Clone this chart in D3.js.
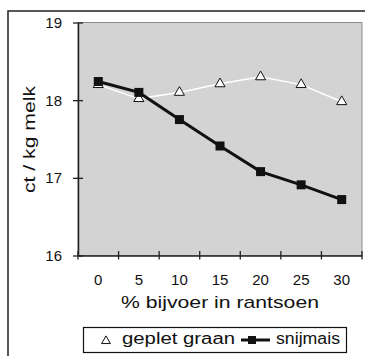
<!DOCTYPE html>
<html>
<head>
<meta charset="utf-8">
<script src="https://cdn.jsdelivr.net/npm/d3@7"></script>
<style>
  body { margin: 0; background: #fff; }
  svg { display: block; font-family: "Liberation Sans", Arial, sans-serif; }
</style>
</head>
<body>
<div id="chart"></div>
<script>
// data
const categories = ["0", "5", "10", "15", "20", "25", "30"];
const gepletGraan = [18.2, 18.02, 18.1, 18.21, 18.3, 18.2, 17.98];
const snijmais = [18.24, 18.1, 17.75, 17.41, 17.08, 16.91, 16.72];
const yTicks = [16, 17, 18, 19];

const width = 365;
const height = 356;
const margin = { top: 22.5, right: 3, bottom: 100.5, left: 78 };

const svg = d3.select("#chart")
    .append("svg")
    .attr("width", width)
    .attr("height", height);

const xScale = d3.scaleBand().domain(categories).range([margin.left, width - margin.right]).padding(0);
const yScale = d3.scaleLinear().domain([16, 19]).range([height - margin.bottom, margin.top]);

// outer frame (left + top edges only visible)
svg.append("path")
    .attr("d", `M8,${height} V11 H${width}`)
    .attr("fill", "none")
    .attr("stroke", "#222")
    .attr("stroke-width", 1.5);

// grey plot area
svg.append("rect")
    .attr("x", margin.left)
    .attr("y", margin.top)
    .attr("width", width - margin.right - margin.left)
    .attr("height", height - margin.bottom - margin.top)
    .attr("fill", "#d3d3d3")
    .attr("stroke", "#8c8c8c")
    .attr("stroke-width", 1);

// y axis with crossing ticks
const yAxis = svg.append("g")
    .attr("transform", `translate(${margin.left},0)`)
    .call(d3.axisLeft(yScale).tickValues(yTicks).tickFormat(d3.format("d")).tickSizeOuter(0));
yAxis.select(".domain").attr("stroke", "#222").attr("stroke-width", 1.5);
yAxis.selectAll(".tick line").attr("x1", 5).attr("x2", -5).attr("stroke", "#222").attr("stroke-width", 1.3);
yAxis.selectAll(".tick text")
    .attr("x", -16)
    .attr("dy", "0.34em")
    .attr("font-size", 15)
    .attr("fill", "#111");

// x axis: labels in band centres, ticks on band edges
const xAxis = svg.append("g")
    .attr("transform", `translate(0,${height - margin.bottom})`)
    .call(d3.axisBottom(xScale).tickSize(0).tickSizeOuter(0));
xAxis.select(".domain").attr("stroke", "#222").attr("stroke-width", 1.5);
xAxis.selectAll(".tick text")
    .attr("y", 29)
    .attr("dy", 0)
    .attr("font-size", 15)
    .attr("fill", "#111");

svg.append("g")
    .selectAll("line")
    .data(d3.range(categories.length + 1))
    .join("line")
    .attr("x1", i => margin.left + i * xScale.step())
    .attr("x2", i => margin.left + i * xScale.step())
    .attr("y1", height - margin.bottom - 4.5)
    .attr("y2", height - margin.bottom + 4)
    .attr("stroke", "#222")
    .attr("stroke-width", 1.3);

const cx = (d, i) => xScale(categories[i]) + xScale.bandwidth() / 2;

// geplet graan: thin white line, open triangles
svg.append("path")
    .datum(gepletGraan)
    .attr("fill", "none")
    .attr("stroke", "#fff")
    .attr("stroke-width", 1.5)
    .attr("d", d3.line().x(cx).y(d => yScale(d)));

// snijmais: thick black line
svg.append("path")
    .datum(snijmais)
    .attr("fill", "none")
    .attr("stroke", "#111")
    .attr("stroke-width", 3)
    .attr("d", d3.line().x(cx).y(d => yScale(d)));

svg.append("g")
    .selectAll("path")
    .data(gepletGraan)
    .join("path")
    .attr("transform", (d, i) => `translate(${cx(d, i)},${yScale(d)})`)
    .attr("d", d3.symbol(d3.symbolTriangle, 44))
    .attr("fill", "#fff")
    .attr("stroke", "#111")
    .attr("stroke-width", 1);

svg.append("g")
    .selectAll("rect")
    .data(snijmais)
    .join("rect")
    .attr("x", (d, i) => cx(d, i) - 4.5)
    .attr("y", d => yScale(d) - 4.5)
    .attr("width", 9)
    .attr("height", 9)
    .attr("fill", "#111");

// axis titles
svg.append("text")
    .attr("x", (margin.left + width - margin.right) / 2)
    .attr("y", 308)
    .attr("text-anchor", "middle")
    .attr("font-size", 17)
    .attr("textLength", 198)
    .attr("lengthAdjust", "spacingAndGlyphs")
    .attr("fill", "#111")
    .text("% bijvoer in rantsoen");

svg.append("text")
    .attr("transform", "translate(35,139.5) rotate(-90)")
    .attr("text-anchor", "middle")
    .attr("font-size", 17)
    .attr("textLength", 107)
    .attr("lengthAdjust", "spacingAndGlyphs")
    .attr("fill", "#111")
    .text("ct / kg melk");

// legend
const legend = svg.append("g");
legend.append("rect")
    .attr("x", 83.5).attr("y", 327.5)
    .attr("width", 263).attr("height", 25)
    .attr("fill", "#fff")
    .attr("stroke", "#111")
    .attr("stroke-width", 1.2);
legend.append("path")
    .attr("transform", "translate(106,341)")
    .attr("d", d3.symbol(d3.symbolTriangle, 34))
    .attr("fill", "none")
    .attr("stroke", "#111")
    .attr("stroke-width", 1);
legend.append("text")
    .attr("x", 122).attr("y", 344)
    .attr("font-size", 16)
    .attr("textLength", 113)
    .attr("lengthAdjust", "spacingAndGlyphs")
    .attr("fill", "#111")
    .text("geplet graan");
legend.append("line")
    .attr("x1", 241).attr("x2", 270)
    .attr("y1", 340).attr("y2", 340)
    .attr("stroke", "#111")
    .attr("stroke-width", 3);
legend.append("rect")
    .attr("x", 248).attr("y", 336)
    .attr("width", 8).attr("height", 8)
    .attr("fill", "#111");
legend.append("text")
    .attr("x", 276).attr("y", 344)
    .attr("font-size", 16)
    .attr("textLength", 64)
    .attr("lengthAdjust", "spacingAndGlyphs")
    .attr("fill", "#111")
    .text("snijmais");
</script>
</body>
</html>
